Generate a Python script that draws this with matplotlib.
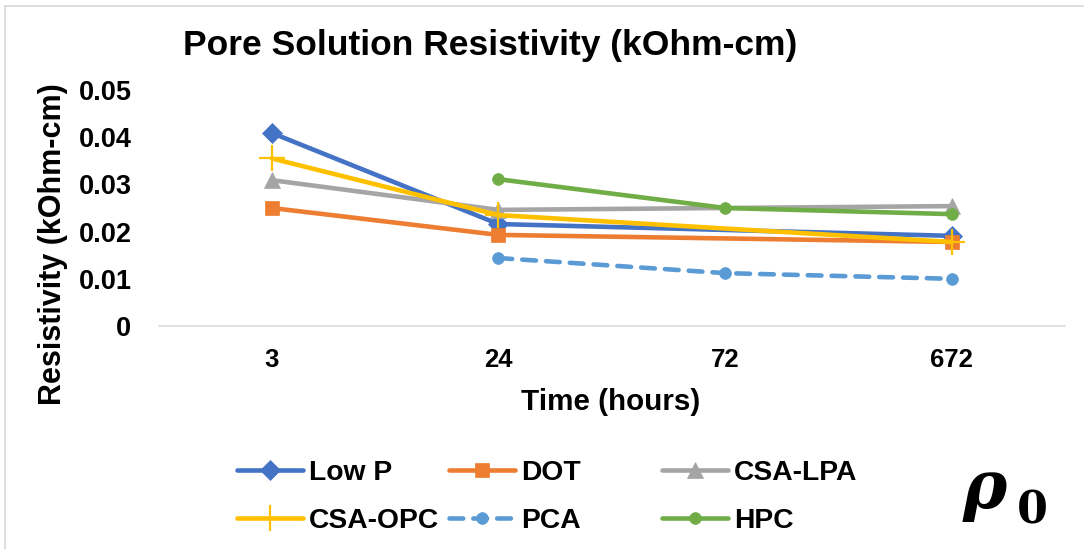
import numpy as np
import matplotlib
matplotlib.use("Agg")
import matplotlib.pyplot as plt
from matplotlib.lines import Line2D

# ---- data ----
categories = ["3", "24", "72", "672"]
series_names = ["Low P", "DOT", "CSA-LPA", "CSA-OPC", "PCA", "HPC"]
low_p = [0.0409, 0.0216, np.nan, 0.0191]
dot = [0.0250, 0.0193, np.nan, 0.0178]
csa_lpa = [0.0309, 0.0246, np.nan, 0.0254]
csa_opc = [0.0355, 0.0235, np.nan, 0.0178]
pca = [np.nan, 0.0144, 0.0112, 0.0100]
hpc = [np.nan, 0.0311, 0.0250, 0.0237]
y_ticks = [0, 0.01, 0.02, 0.03, 0.04, 0.05]
y_tick_labels = ["0", "0.01", "0.02", "0.03", "0.04", "0.05"]

series_values = [low_p, dot, csa_lpa, csa_opc, pca, hpc]
colors = ["#4472C4", "#ED7D31", "#A5A5A5", "#FFC000", "#5B9BD5", "#70AD47"]
markers = ["D", "s", "^", "+", "o", "o"]
msizes = [10, 10, 12, 19, 8.5, 8.5]
styles = ["-", "-", "-", "-", (0, (3, 2.2)), "-"]

plt.rcParams["font.family"] = ["Liberation Sans", "DejaVu Sans"]
plt.rcParams["font.weight"] = "bold"

W, H = 1084, 549
fig = plt.figure(figsize=(W / 100, H / 100), dpi=100)
ax_l, ax_r, ax_t, ax_b = 158.5, 1065, 90, 326
ax = fig.add_axes([ax_l / W, 1 - ax_b / H, (ax_r - ax_l) / W, (ax_b - ax_t) / H])

x = np.arange(len(categories))
lines = []
for name, vals, c, m, ms, ls in zip(series_names, series_values, colors, markers, msizes, styles):
    v = np.array(vals, dtype=float)
    ok = ~np.isnan(v)
    ln, = ax.plot(x[ok], v[ok], color=c, lw=3.3, ls=ls, marker=m, markersize=ms,
                  markeredgewidth=1.6 if m == "+" else 0.5, markeredgecolor=c,
                  markerfacecolor=c, label=name, solid_capstyle="round",
                  dash_capstyle="round", solid_joinstyle="round")
    lines.append(ln)

ax.set_xlim(-0.5, 3.5)
ax.set_ylim(0, 0.05)
ax.set_xticks(x)
ax.set_xticklabels(categories, fontsize=18.5, fontweight="bold")
ax.set_yticks(y_ticks)
ax.set_yticklabels(y_tick_labels, fontsize=19.5, fontweight="bold")
ax.tick_params(axis="both", length=0)
ax.tick_params(axis="y", pad=19.5)
ax.tick_params(axis="x", pad=16)
for s in ["top", "right", "left"]:
    ax.spines[s].set_visible(False)
ax.spines["bottom"].set_color("#D9D9D9")
ax.spines["bottom"].set_linewidth(1.1)

ax.set_xlabel("Time (hours)", fontsize=21.3, fontweight="bold")
ax.xaxis.set_label_coords(0.499, -0.262)
ax.set_ylabel("Resistivity (kOhm-cm)", fontsize=22, fontweight="bold")
ax.yaxis.set_label_coords(-0.1, 0.347)

fig.text(490 / W, 1 - 55 / H, "Pore Solution Resistivity (kOhm-cm)", fontsize=25.5,
         fontweight="bold", ha="center", va="baseline")

# legend: three columns
col_x = [237, 449, 662]
for ci in range(3):
    hs = [lines[ci], lines[ci + 3]]
    fig.legend(handles=hs, labels=[h.get_label() for h in hs], loc="center left",
               bbox_to_anchor=(col_x[ci] / W, 1 - 497 / H), frameon=False,
               borderpad=0, borderaxespad=0, handlelength=2.35, handletextpad=0.2,
               labelspacing=0.78, numpoints=1, prop={"size": 20.3, "weight": "bold"})

# rho_0 symbol
fig.text(963 / W, 1 - 508 / H, "ρ", fontsize=48, family="DejaVu Serif",
         fontweight="bold", fontstyle="italic", ha="left", va="baseline")
fig.text(1017 / W, 1 - 524 / H, "0", fontsize=32, family="DejaVu Serif",
         fontweight="bold", ha="left", va="baseline")

# chart frame fragments
fig.add_artist(Line2D([5 / W, 1], [1 - 6 / H, 1 - 6 / H], color="#D9D9D9", lw=1.2))
fig.add_artist(Line2D([5 / W, 5 / W], [0, 1 - 6 / H], color="#D9D9D9", lw=1.2))

fig.savefig("out.png", dpi=100)
